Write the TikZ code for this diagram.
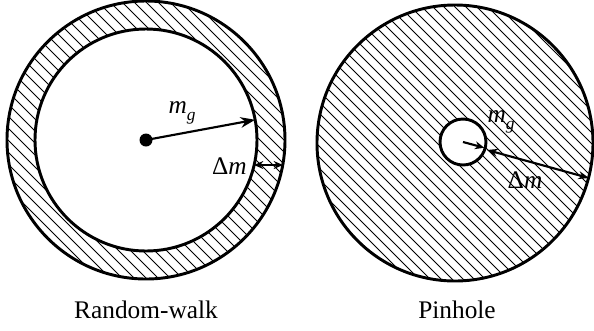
\documentclass[tikz,border=0pt]{standalone}
\usepackage{fontspec}
\setmainfont{Liberation Serif}
\usetikzlibrary{arrows.meta,calc}

\tikzset{
  rim/.style={line width=2.2pt},
  hatchline/.style={line width=0.7pt},
  label/.style={inner sep=0pt, font=\fontsize{19}{19}\selectfont},
  radius arrow/.style={line width=1.6pt, -{Stealth[length=11pt,width=8pt]}},
  width arrow/.style={line width=1.4pt, {Stealth[length=7pt,width=6pt]}-{Stealth[length=7pt,width=6pt]}},
}
\newcommand{\mglabel}{{\itshape m}\raisebox{-5pt}{\fontsize{13}{13}\selectfont\itshape g}}

\begin{document}
\begin{tikzpicture}[x=0.75pt, y=-0.75pt]
    \useasboundingbox (0,0) rectangle (594,330);

    % Random-walk
    \coordinate (rwc) at (146,140);
    \begin{scope}
        \clip (rwc) circle (139);
        \foreach \c in {-300,-288,...,300}
            \draw[hatchline] (\c,0) -- (\c+330,330);
    \end{scope}
    \fill[white] (rwc) circle (111);
    \draw[rim] (rwc) circle (139);
    \draw[rim] (rwc) circle (111);
    \fill (rwc) circle (6.5);
    \coordinate (rwtip) at ($(rwc)+(-10.5:111)$);
    \draw[radius arrow] (rwc) -- (rwtip);
    \node[label] (rwmg) at (182,113) {\mglabel};
    \coordinate (rwin) at (254,165);
    \coordinate (rwout) at (283,165);
    \draw[width arrow] (rwin) -- (rwout);
    \node[label, anchor=east] (rwdm) at (247,166) {Δ\textit{m}};
    \node[label, anchor=base] (rwname) at (146,318) {Random-walk};

    % Pinhole
    \coordinate (phc) at (455,143);
    \coordinate (phh) at (463,142);
    \begin{scope}
        \clip (phc) circle (138);
        \foreach \c in {-300,-289,...,600}
            \draw[hatchline] (\c,0) -- (\c+330,330);
    \end{scope}
    \fill[white] (phh) circle (23);
    \draw[rim] (phc) circle (138);
    \draw[rim] (phh) circle (23);
    \coordinate (phtip) at ($(phh)+(15:22)$);
    \draw[line width=1.6pt, -{Stealth[length=7pt,width=6pt]}] (phh) -- (phtip);
    \node[label] (phmg) at (501,122) {\mglabel};
    \coordinate (phin) at (487,150);
    \coordinate (phout) at (589,178);
    \draw[line width=1.6pt, {Stealth[length=8pt,width=6pt]}-{Stealth[length=8pt,width=6pt]}] (phin) -- (phout);
    \node[label] (phdm) at (525,180) {Δ\textit{m}};
    \node[label, anchor=base] (phname) at (457,318) {Pinhole};
\end{tikzpicture}
\end{document}
